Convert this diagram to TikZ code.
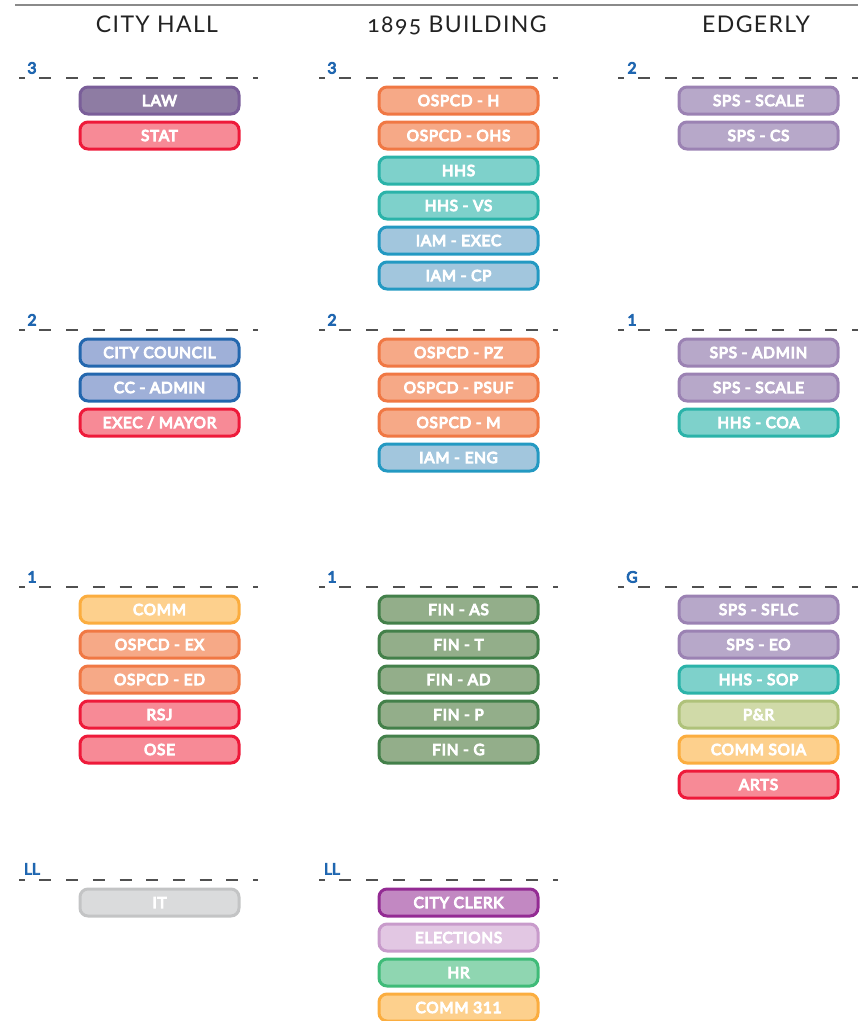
\documentclass[tikz,border=0pt]{standalone}
\usepackage{fontspec}
\setmainfont{Lato}
\newfontfamily\headfont[Numbers=OldStyle,LetterSpace=6]{Lato}
\newfontfamily\boxfont[LetterSpace=5]{Lato}
\newfontfamily\floorfont{Lato}
\newcommand\strokeon[1]{\special{pdf:literal direct 2 Tr #1 w}}
\newcommand\strokeoff{\special{pdf:literal direct 0 Tr}}
\definecolor{headc}{HTML}{222222}
\definecolor{rulec}{HTML}{8A8A8A}
\definecolor{dashc}{HTML}{505050}
\definecolor{floorc}{HTML}{1F66B0}
\definecolor{lawF}{HTML}{8E7CA3}\definecolor{lawB}{HTML}{7A5E99}
\definecolor{redF}{HTML}{F78A96}\definecolor{redB}{HTML}{EE1A3A}
\definecolor{ospF}{HTML}{F6A987}\definecolor{ospB}{HTML}{F07844}
\definecolor{hhsF}{HTML}{7ED1CB}\definecolor{hhsB}{HTML}{2BB3A9}
\definecolor{iamF}{HTML}{A2C6DD}\definecolor{iamB}{HTML}{2399C2}
\definecolor{spsF}{HTML}{B7A8C9}\definecolor{spsB}{HTML}{9B82B3}
\definecolor{ccF}{HTML}{9FB0D8}\definecolor{ccB}{HTML}{2367AE}
\definecolor{comF}{HTML}{FDD08D}\definecolor{comB}{HTML}{FBAD3F}
\definecolor{finF}{HTML}{93AE8A}\definecolor{finB}{HTML}{43804A}
\definecolor{prF}{HTML}{D0DAA8}\definecolor{prB}{HTML}{AFC27A}
\definecolor{itF}{HTML}{DADBDC}\definecolor{itB}{HTML}{C3C4C5}
\definecolor{clkF}{HTML}{C288C2}\definecolor{clkB}{HTML}{932B93}
\definecolor{elF}{HTML}{E2C7E3}\definecolor{elB}{HTML}{C89BCB}
\definecolor{hrF}{HTML}{8FD6B1}\definecolor{hrB}{HTML}{3FBB78}
\begin{document}
\begin{tikzpicture}[x=1pt,y=-1pt,
  dept/.style={rounded corners=8pt, line width=3pt, minimum width=159pt, minimum height=27pt,
    inner sep=0pt, text=white, font=\boxfont\fontsize{15.3}{15.3}\selectfont,
    text height=11pt, text depth=0pt, execute at begin node={\strokeon{1.0}}, execute at end node={\strokeoff}},
  lawbox/.style={dept, fill=lawF, draw=lawB},
  redbox/.style={dept, fill=redF, draw=redB},
  ospbox/.style={dept, fill=ospF, draw=ospB},
  hhsbox/.style={dept, fill=hhsF, draw=hhsB},
  iambox/.style={dept, fill=iamF, draw=iamB},
  spsbox/.style={dept, fill=spsF, draw=spsB},
  ccbox/.style={dept, fill=ccF, draw=ccB},
  combox/.style={dept, fill=comF, draw=comB},
  finbox/.style={dept, fill=finF, draw=finB},
  prbox/.style={dept, fill=prF, draw=prB},
  itbox/.style={dept, fill=itF, draw=itB},
  clkbox/.style={dept, fill=clkF, draw=clkB},
  elbox/.style={dept, fill=elF, draw=elB},
  hrbox/.style={dept, fill=hrF, draw=hrB},
  header/.style={text=headc, font=\headfont\fontsize{23}{23}\selectfont, inner sep=0pt,
    text height=16.5pt, text depth=0pt},
  floor/.style={text=floorc, font=\floorfont\fontsize{15.5}{15.5}\selectfont, inner sep=0pt,
    text height=11pt, text depth=0pt, execute at begin node={\strokeon{0.9}}, execute at end node={\strokeoff}},
  floorline/.style={draw=dashc, line width=1.4pt, dash pattern=on 12pt off 14.7pt, dash phase=6.3pt}
]
\useasboundingbox (0,0) rectangle (867,1021);
\clip (0,0) rectangle (867,1021);
% top rule
\draw[rulec, line width=2pt] (15,5) -- (858,5);
% headers
\node[header] (hCH) at (157,24.5) {CITY HALL};
\node[header] (hB) at (457,24.5) {1895 BUILDING};
\node[header] (hE) at (756,24.5) {EDGERLY};
% floor lines
\foreach \y in {78,330,587,880}{
  \draw[floorline] (19,\y) -- (258,\y);
  \draw[floorline] (319,\y) -- (558,\y);
}
\foreach \y in {78,330,587}{
  \draw[floorline] (618,\y) -- (858,\y);
}
% floor labels
\node[floor] (fch3) at (32,68) {3};
\node[floor] (fch2) at (32,320) {2};
\node[floor] (fch1) at (32,577) {1};
\node[floor] (fchL) at (32,869) {LL};
\node[floor] (fb3) at (332,68) {3};
\node[floor] (fb2) at (332,320) {2};
\node[floor] (fb1) at (332,577) {1};
\node[floor] (fbL) at (332,869) {LL};
\node[floor] (fe2) at (632,68) {2};
\node[floor] (fe1) at (632,320) {1};
\node[floor] (feG) at (632,577) {G};
% City Hall
\node[lawbox] (law) at (159.5,100.5) {LAW};
\node[redbox] (stat) at (159.5,135.5) {STAT};
\node[ccbox] (council) at (159.5,352.5) {CITY COUNCIL};
\node[ccbox] (ccadmin) at (159.5,387.5) {CC - ADMIN};
\node[redbox] (mayor) at (159.5,422.5) {EXEC / MAYOR};
\node[combox] (comm) at (159.5,609.5) {COMM};
\node[ospbox] (ospex) at (159.5,644.5) {OSPCD - EX};
\node[ospbox] (osped) at (159.5,679.5) {OSPCD - ED};
\node[redbox] (rsj) at (159.5,714.5) {RSJ};
\node[redbox] (ose) at (159.5,749.5) {OSE};
\node[itbox] (it) at (159.5,902.5) {IT};
% 1895 Building
\node[ospbox] (osph) at (458.5,100.5) {OSPCD - H};
\node[ospbox] (ospohs) at (458.5,135.5) {OSPCD - OHS};
\node[hhsbox] (hhs) at (458.5,170.5) {HHS};
\node[hhsbox] (hhsvs) at (458.5,205.5) {HHS - VS};
\node[iambox] (iamexec) at (458.5,240.5) {IAM - EXEC};
\node[iambox] (iamcp) at (458.5,275.5) {IAM - CP};
\node[ospbox] (osppz) at (458.5,352.5) {OSPCD - PZ};
\node[ospbox] (osppsuf) at (458.5,387.5) {OSPCD - PSUF};
\node[ospbox] (ospm) at (458.5,422.5) {OSPCD - M};
\node[iambox] (iameng) at (458.5,457.5) {IAM - ENG};
\node[finbox] (finas) at (458.5,609.5) {FIN - AS};
\node[finbox] (fint) at (458.5,644.5) {FIN - T};
\node[finbox] (finad) at (458.5,679.5) {FIN - AD};
\node[finbox] (finp) at (458.5,714.5) {FIN - P};
\node[finbox] (fing) at (458.5,749.5) {FIN - G};
\node[clkbox] (clerk) at (458.5,902.5) {CITY CLERK};
\node[elbox] (elect) at (458.5,937.5) {ELECTIONS};
\node[hrbox] (hr) at (458.5,972.5) {HR};
\node[combox] (comm311) at (458.5,1007.5) {COMM 311};
% Edgerly
\node[spsbox] (spsscale) at (758.5,100.5) {SPS - SCALE};
\node[spsbox] (spscs) at (758.5,135.5) {SPS - CS};
\node[spsbox] (spsadmin) at (758.5,352.5) {SPS - ADMIN};
\node[spsbox] (spsscale2) at (758.5,387.5) {SPS - SCALE};
\node[hhsbox] (hhscoa) at (758.5,422.5) {HHS - COA};
\node[spsbox] (spssflc) at (758.5,609.5) {SPS - SFLC};
\node[spsbox] (spseo) at (758.5,644.5) {SPS - EO};
\node[hhsbox] (hhssop) at (758.5,679.5) {HHS - SOP};
\node[prbox] (pr) at (758.5,714.5) {P\&R};
\node[combox] (commsoia) at (758.5,749.5) {COMM SOIA};
\node[redbox] (arts) at (758.5,784.5) {ARTS};
\end{tikzpicture}
\end{document}
